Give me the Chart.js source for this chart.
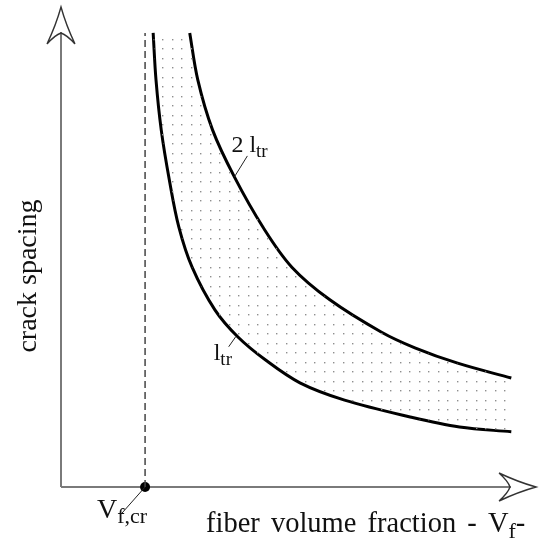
<!DOCTYPE html>
<html>
<head>
<meta charset="utf-8">
<script src="https://cdn.jsdelivr.net/npm/chart.js@4/dist/chart.umd.min.js"></script>
<style>
  html, body { margin: 0; padding: 0; background: #fff; }
  #wrap { width: 541px; height: 540px; }
</style>
</head>
<body>
<div id="wrap"><canvas id="spacing-chart"></canvas></div>
<script>
// Crack spacing vs. fiber volume fraction (schematic units)
const lowerVf      = [1.94, 2.00, 2.11, 2.28, 2.48, 2.76, 3.24, 3.72, 4.30, 5.03, 5.97, 7.35, 8.39, 9.48];
const lowerSpacing = [9.46, 8.48, 7.44, 6.40, 5.42, 4.58, 3.69, 3.13, 2.65, 2.17, 1.81, 1.46, 1.25, 1.15];
const upperVf      = [2.71, 2.88, 3.19, 3.65, 4.26, 4.86, 5.66, 6.74, 7.45, 8.35, 9.48];
const upperSpacing = [9.46, 8.48, 7.44, 6.46, 5.40, 4.58, 3.90, 3.23, 2.90, 2.58, 2.27];
const criticalVf = 1.77;
const axisMax = 10;

const serif = '"Liberation Serif", "DejaVu Serif", serif';

const toPoints = (xs, ys) => xs.map((x, i) => ({ x: x, y: ys[i] }));
const lowerPts = toPoints(lowerVf, lowerSpacing);
const upperPts = toPoints(upperVf, upperSpacing);

// closed outline of the band: lower curve out, upper curve back
// (end points doubled so the spline matches the single curves)
const bandPts = [lowerPts[0]].concat(
  lowerPts,
  [lowerPts[lowerPts.length - 1], upperPts[upperPts.length - 1]],
  upperPts.slice().reverse(),
  [upperPts[0]]
);

// dotted fill for the band
const makeDots = function() {
  const c = document.createElement("canvas");
  c.width = 19; c.height = 19;
  const g = c.getContext("2d");
  g.fillStyle = "#8e8e8e";
  [[1, 1], [10, 1], [1, 10], [10, 10]].forEach(p => g.fillRect(p[0], p[1], 1.4, 1.4));
  return g.createPattern(c, "repeat");
};

// subscript text helper, returns the x where it ends
const subText = function(ctx, main, sub, x, y, size, subSize, drop) {
  ctx.font = size + "px " + serif;
  ctx.fillText(main, x, y);
  x += ctx.measureText(main).width;
  ctx.font = subSize + "px " + serif;
  ctx.fillText(sub, x, y + drop);
  return x + ctx.measureText(sub).width;
};

const openArrow = function(ctx, tx, ty, dx, dy) {
  // dx,dy: unit vector pointing along the arrow
  const px = -dy, py = dx;
  const len = 37, half = 14, notch = 26;
  const w1 = [tx - dx * len + px * half, ty - dy * len + py * half];
  const w2 = [tx - dx * len - px * half, ty - dy * len - py * half];
  const n = [tx - dx * notch, ty - dy * notch];
  ctx.beginPath();
  ctx.moveTo(w1[0], w1[1]);
  ctx.quadraticCurveTo(tx - dx * 18 + px * 5, ty - dy * 18 + py * 5, tx, ty);
  ctx.quadraticCurveTo(tx - dx * 18 - px * 5, ty - dy * 18 - py * 5, w2[0], w2[1]);
  ctx.moveTo(w1[0], w1[1]);
  ctx.quadraticCurveTo(n[0] - dx * 2 + px * 6, n[1] - dy * 2 + py * 6, n[0], n[1]);
  ctx.quadraticCurveTo(n[0] - dx * 2 - px * 6, n[1] - dy * 2 - py * 6, w2[0], w2[1]);
  ctx.stroke();
};

const axesPlugin = {
  id: "sketchAxes",
  beforeDatasetsDraw(chart) {
    const ctx = chart.ctx;
    const xs = chart.scales.x, ys = chart.scales.y;
    const x0 = xs.getPixelForValue(0), y0 = ys.getPixelForValue(0);
    const xEnd = xs.getPixelForValue(axisMax), yEnd = ys.getPixelForValue(axisMax);
    ctx.save();
    ctx.strokeStyle = "#7a7a7a";
    ctx.lineWidth = 2;
    ctx.beginPath();
    ctx.moveTo(x0, y0); ctx.lineTo(xEnd - 25, y0);
    ctx.moveTo(x0, y0); ctx.lineTo(x0, yEnd + 25);
    ctx.stroke();
    ctx.strokeStyle = "#333";
    ctx.lineWidth = 1.4;
    openArrow(ctx, x0, yEnd, 0, -1);
    openArrow(ctx, xEnd, y0, 1, 0);
    ctx.restore();
  },
  afterDraw(chart) {
    const ctx = chart.ctx;
    const xs = chart.scales.x, ys = chart.scales.y;
    ctx.save();
    ctx.fillStyle = "#111";
    ctx.strokeStyle = "#222";
    ctx.lineWidth = 1;
    ctx.textBaseline = "alphabetic";

    // axis titles
    ctx.save();
    ctx.translate(36, 276);
    ctx.rotate(-Math.PI / 2);
    ctx.font = "28px " + serif;
    ctx.textAlign = "center";
    ctx.fillText("crack spacing", 0, 0);
    ctx.restore();

    ctx.save();
    ctx.wordSpacing = "4px";
    let ex = subText(ctx, "fiber volume fraction - V", "f", 206, 532, 28.5, 22, 6);
    ctx.font = "28.5px " + serif;
    ctx.fillText("-", ex, 532);
    ctx.restore();

    // critical volume fraction
    const cx = xs.getPixelForValue(criticalVf), cy = ys.getPixelForValue(0);
    ctx.beginPath();
    ctx.moveTo(cx, cy); ctx.lineTo(cx - 23, cy + 26);
    ctx.stroke();
    subText(ctx, "V", "f,cr", 97, 518, 28, 22, 5);

    // curve labels with leaders
    const up = upperPts[3], lo = lowerPts[7];
    const ux = xs.getPixelForValue(up.x), uy = ys.getPixelForValue(up.y);
    ctx.beginPath();
    ctx.moveTo(ux, uy); ctx.lineTo(ux + 13, uy - 21);
    ctx.stroke();
    subText(ctx, "2 l", "tr", ux - 3, uy - 25, 24, 19, 5);

    const lx = xs.getPixelForValue(lo.x), ly = ys.getPixelForValue(lo.y);
    ctx.beginPath();
    ctx.moveTo(lx - 2, ly); ctx.lineTo(lx - 9, ly + 10);
    ctx.stroke();
    subText(ctx, "l", "tr", lx - 24, ly + 23, 24, 19, 5);
    ctx.restore();
  }
};

const chartDatasets = [
  {
    data: bandPts,
    showLine: true,
    borderWidth: 0,
    pointRadius: 0,
    tension: 0.35,
    fill: "shape",
    backgroundColor: makeDots()
  },
  {
    data: lowerPts,
    showLine: true,
    borderColor: "#000",
    borderWidth: 3,
    pointRadius: 0,
    tension: 0.35,
    fill: false
  },
  {
    data: upperPts,
    showLine: true,
    borderColor: "#000",
    borderWidth: 3,
    pointRadius: 0,
    tension: 0.35,
    fill: false
  },
  {
    data: [{ x: criticalVf, y: 0 }, { x: criticalVf, y: lowerSpacing[0] }],
    showLine: true,
    borderColor: "#444",
    borderWidth: 1.5,
    borderDash: [7, 4],
    pointRadius: 0,
    fill: false
  },
  {
    data: [{ x: criticalVf, y: 0 }],
    showLine: false,
    pointRadius: 5,
    pointBackgroundColor: "#000",
    pointBorderWidth: 0,
    clip: false
  }
];

new Chart(document.getElementById("spacing-chart"), {
  type: "scatter",
  data: { datasets: chartDatasets },
  options: {
    responsive: true,
    maintainAspectRatio: false,
    animation: false,
    events: [],
    layout: { padding: { left: 61, right: 1, top: 7, bottom: 53 } },
    scales: {
      x: { type: "linear", min: 0, max: axisMax, display: false },
      y: { type: "linear", min: 0, max: axisMax, display: false }
    },
    plugins: {
      legend: { display: false },
      tooltip: { enabled: false }
    }
  },
  plugins: [axesPlugin]
});
</script>
</body>
</html>
